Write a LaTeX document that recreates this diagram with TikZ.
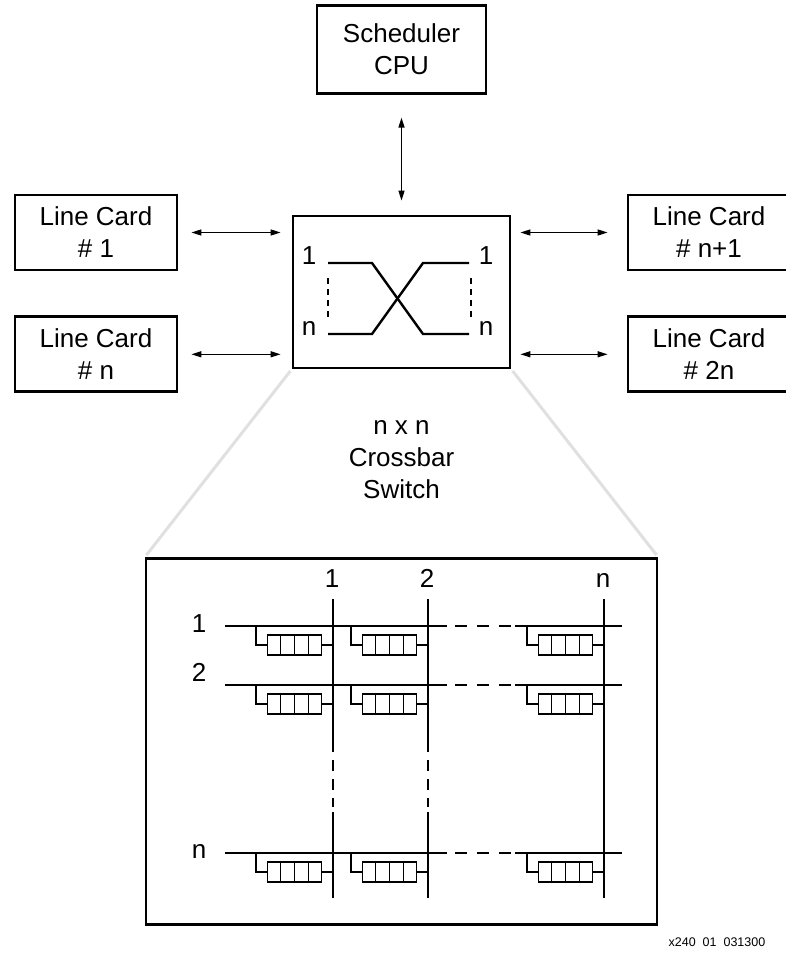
\documentclass[tikz,border=0pt]{standalone}
\usepackage{fontspec}
\setmainfont{Liberation Sans}
\usepackage{tikz}
\usetikzlibrary{arrows.meta, positioning, calc, backgrounds}
\newcommand{\lblsize}{\fontsize{26}{32}\selectfont}
\newcommand{\tagsize}{\fontsize{12.5}{14}\selectfont}
\tikzset{
  unit/.style={rectangle, draw=black, line width=2.8pt, inner sep=0pt,
               align=center, font=\lblsize},
  card/.style={unit, minimum width=162pt, minimum height=75pt},
  cpu/.style={unit, minimum width=169pt, minimum height=88pt},
  xbar/.style={unit, minimum width=217pt, minimum height=152pt},
  fabric/.style={unit, minimum width=511pt, minimum height=366pt},
  queue/.style={rectangle, draw=black, line width=1.3pt, inner sep=0pt,
                minimum width=53.4pt, minimum height=20pt},
  bi/.style={{Triangle[length=10pt,width=6pt]}-{Triangle[length=10pt,width=6pt]},
             line width=1.3pt},
  wire/.style={line width=1.6pt},
  dashwire/.style={line width=1.6pt, dash pattern=on 11pt off 8pt},
  xline/.style={line width=2.4pt},
  zoomln/.style={draw=black!12, line width=3pt},
  lbl/.style={font=\lblsize, inner sep=0pt, align=center},
  tag/.style={font=\tagsize, inner sep=0pt}
}
\begin{document}
\begin{tikzpicture}[x=1pt, y=-1pt]
\useasboundingbox (0,0) rectangle (785,960);

% switch and the units round it
\node[xbar] (sw) at (401.5,292) {};
\node[cpu, above=120pt of sw] (sched) {Scheduler\\CPU};
\node[card] (lc1) at (96,232.5) {Line Card\\\# 1};
\node[card, below=44pt of lc1] (lcn) {Line Card\\\# n};
\node[card] (lcn1) at (709,232.5) {Line Card\\\# n+1};
\node[card, below=44pt of lcn1] (lc2n) {Line Card\\\# 2n};

\draw[bi, shorten <=23pt, shorten >=14pt] (sched.south) -- (sched.south |- sw.north);
\draw[bi, shorten <=13pt, shorten >=11pt] (lc1.east) -- (lc1.east -| sw.west);
\draw[bi, shorten <=13pt, shorten >=11pt] (lcn.east) -- (lcn.east -| sw.west);
\draw[bi, shorten <=9pt, shorten >=19pt] (lcn1.west -| sw.east) -- (lcn1.west);
\draw[bi, shorten <=9pt, shorten >=19pt] (lc2n.west -| sw.east) -- (lc2n.west);

% inside the switch
\node[lbl] (in1) at (309,256) {1};
\node[lbl] (inn) at (309,329) {n};
\node[lbl] (out1) at (486,256) {1};
\node[lbl] (outn) at (486,329) {n};
\draw[xline] (328,263) -- (372,263) -- (423,334) -- (469,334);
\draw[xline] (328,334) -- (372,334) -- (423,263) -- (469,263);
\draw[line width=1.6pt, dash pattern=on 6pt off 5pt] (328,278) -- (328,318);
\draw[line width=1.6pt, dash pattern=on 6pt off 5pt] (471,278) -- (471,318);

\node[lbl, below=51pt of sw] (cap) {n x n\\Crossbar\\Switch};

% crossbar detail
\node[fabric, below=188pt of sw] (big) {};
\begin{scope}[on background layer]
\draw[zoomln, shorten <=2pt, shorten >=3pt] (sw.south west) -- (big.north west);
\draw[zoomln, shorten <=2pt, shorten >=3pt] (sw.south east) -- (big.north east);
\end{scope}

\foreach \cx/\cl in {333/1, 428/2, 604/n} {
  \node[lbl, anchor=base] (h\cl) at (\cx-1,587) {\cl};
  \coordinate (top\cl) at (\cx,599);
  \coordinate (bot\cl) at (\cx,898);
}
\foreach \cl in {1,2} {
  \draw[wire] (top\cl) -- ++(0,153);
  \draw[dashwire] ($(top\cl)+(0,161)$) -- ++(0,47);
  \draw[wire] ($(top\cl)+(0,213)$) -- (bot\cl);
}
\draw[wire] (topn) -- (botn);

\foreach \ry/\rl/\ly in {626/1/624, 685/2/672, 853/n/851} {
  \node[lbl] (r\rl) at (199,\ly) {\rl};
  \coordinate (w\rl) at (225,\ry);
  \coordinate (e\rl) at (622,\ry);
  \draw[wire] (w\rl) -- ++(222,0);
  \draw[wire, dash pattern=on 12pt off 10pt] ($(w\rl)+(230,0)$) -- ++(57,0);
  \draw[wire] ($(w\rl)+(290,0)$) -- (e\rl);
  \foreach \cx/\cl in {333/1, 428/2, 604/n} {
    \node[queue] (q\rl\cl) at (\cx-38.5,\ry+19) {};
    \foreach \k in {1,2,3}
      \draw[line width=1.3pt] ($(q\rl\cl.north west)!\k/4!(q\rl\cl.north east)$)
        -- ($(q\rl\cl.south west)!\k/4!(q\rl\cl.south east)$);
    \draw[wire] (q\rl\cl.west) -- ++(-11,0) -- ++(0,-19);
    \draw[wire] (q\rl\cl.east) -- (q\rl\cl.east -| top\cl);
  }
}

\node[tag] (fig) at (717,942) {x240\ \ 01\ \ 031300};
\end{tikzpicture}
\end{document}
